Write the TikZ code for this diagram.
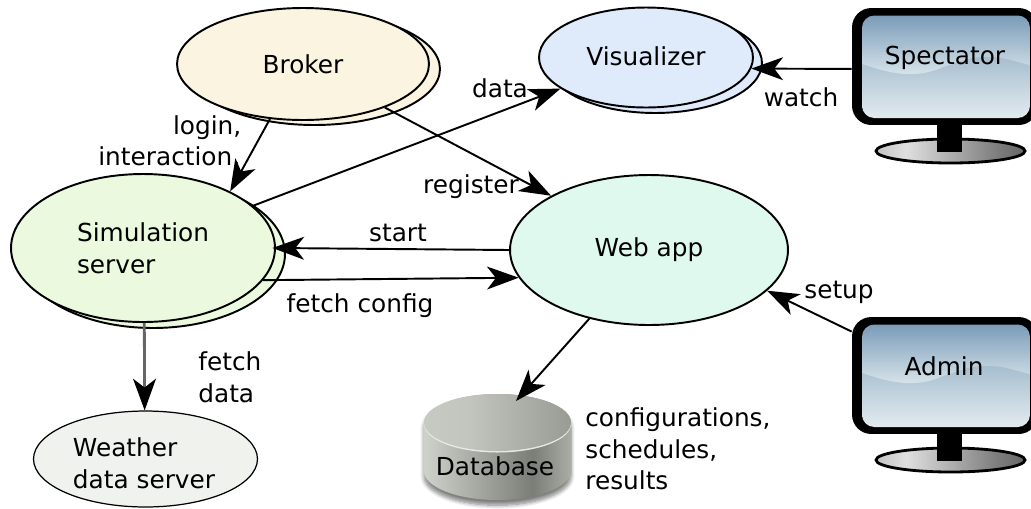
\documentclass[tikz,border=0pt]{standalone}
\usepackage{fontspec}
\setmainfont{DejaVu Sans}
\usepackage{xcolor}
\usetikzlibrary{shapes.geometric, arrows.meta, positioning, calc, shadows.blur}
\definecolor{brokerfill}{RGB}{251, 244, 224}
\definecolor{visfill}{RGB}{223, 234, 250}
\definecolor{simfill}{RGB}{235, 249, 223}
\definecolor{webfill}{RGB}{223, 249, 238}
\definecolor{weatherfill}{RGB}{240, 242, 238}
\definecolor{screentop}{RGB}{122, 155, 185}
\definecolor{screenmid}{RGB}{214, 227, 233}
\definecolor{screenlow}{RGB}{160, 185, 203}
\definecolor{screenend}{RGB}{226, 235, 239}
\definecolor{dbdark}{RGB}{122, 126, 118}
\definecolor{dblight}{RGB}{206, 210, 202}
\pgfdeclarehorizontalshading{dbside}{100bp}{color(0bp)=(dbdark); color(8bp)=(dblight!90!dbdark); color(25bp)=(dblight); color(62bp)=(dbdark); color(85bp)=(dblight); color(100bp)=(dbdark)}
\pgfdeclarehorizontalshading{dbtop}{100bp}{color(0bp)=(dblight); color(40bp)=(dblight!85!dbdark); color(100bp)=(dbdark)}
\pgfdeclarehorizontalshading{standfoot}{100bp}{color(0bp)=(gray); color(35bp)=(gray!25); color(65bp)=(gray); color(100bp)=(black!85)}
\tikzset{
	% 1 unit is 1 pixel of the reference
	proc/.style={ellipse, draw=black, line width=1.1pt, inner sep=0pt, align=left},
	tag/.style={inner sep=0pt, align=left},
	link/.style={draw=black, line width=1.1pt, -{Stealth[length=18pt, width=13pt, inset=5pt, color=black]}}
}

\begin{document}
\begin{tikzpicture}[x=0.02cm, y=-0.02cm, font=\fontsize{14.1}{18}\selectfont]
	\clip (0,0) rectangle (1031,508);

	% Processes, the copy behind first
	\node[proc, fill=brokerfill, minimum width=5.02cm, minimum height=2.24cm] (brokerback) at (314.5,69) {};
	\node[proc, fill=brokerfill, minimum width=5.04cm, minimum height=2.24cm] (broker) at (303,64) {\raisebox{-0.6pt}{Broker}};
	\node[proc, fill=visfill, minimum width=4.28cm, minimum height=2cm] (visback) at (655,63) {};
	\node[proc, fill=visfill, minimum width=4.28cm, minimum height=2cm] (vis) at (646,57.5) {\raisebox{1.2pt}{Visualizer}};
	\node[proc, fill=simfill, minimum width=5.28cm, minimum height=2.96cm] (simback) at (153,254) {};
	\node[proc, fill=simfill, minimum width=5.28cm, minimum height=2.96cm] (sim) at (143,248) {Simulation\\server};
	\node[proc, fill=webfill, minimum width=5.56cm, minimum height=3cm] (web) at (649,250) {\raisebox{-1pt}{Web app}};
	\node[proc, fill=weatherfill, line width=0.7pt, minimum width=4.48cm, minimum height=1.92cm] (weather) at (145.5,459) {};
	\node[tag] (weathertext) at (144,463) {Weather\\data server};

	% Database
	\shade[shading=dbside, blur shadow={shadow blur steps=8, shadow xshift=0pt, shadow yshift=-3pt, shadow opacity=50}]
		(424,422.5) -- (424,471) arc[start angle=180, end angle=360, x radius=73.5, y radius=-29] -- (571,422.5)
		arc[start angle=0, end angle=180, x radius=73.5, y radius=-28.5] -- cycle;
	\fill[white!50!dblight] (497.5,424) ellipse[x radius=73.5, y radius=28.5];
	\shade[shading=dbtop] (497.5,422.5) ellipse[x radius=73.5, y radius=28.5];
	\node[tag] (dbtext) at (495,466) {Database};
	\coordinate (dbin) at (516,401);

	% Monitors
	\foreach \mname/\mtext/\moff/\mx in {spectator/Spectator/0/945, admin/Admin/309/944} {
		\begin{scope}[shift={(0,\moff)}]
			\shade[shading=standfoot, draw=black, line width=1.6pt] (950.5,151) ellipse[x radius=74.5, y radius=12];
			\fill[black] (937,120) rectangle (962,152);
			\node[fill=black, rounded corners=11pt, minimum width=3.72cm, minimum height=2.34cm, inner sep=0pt] (\mname) at (945,66.5) {};
			\begin{scope}
				\clip[rounded corners=7pt] (862,15.5) rectangle (1030,118);
				\shade[top color=screenlow, bottom color=screenend] (862,50) rectangle (1030,118);
				\shade[top color=screentop, bottom color=screenmid] (862,15) -- (1030,15) -- (1030,65)
					.. controls (1012,61) and (1005,57) .. (990,57)
					.. controls (968,56) and (958,63) .. (943,67)
					.. controls (930,73) and (920,74) .. (910,74)
					.. controls (890,74) and (875,68) .. (862,64) -- cycle;
			\end{scope}
			\node[tag] (\mname text) at (\mx,57.5) {\mtext};
		\end{scope}
	}

	% Connectors
	\draw[link] (broker.239.5) -- (sim.33.4);
	\draw[link] (broker.-28.3) -- (web.151.6);
	\draw[link] (sim.21.3) -- (vis.200.6);
	\draw[link] ([yshift=-1.4pt]spectator.west) -- (vis.-6.3);
	\draw[link, shorten >=-2pt] (web.west) -- (sim.-0.5);
	\draw[link] (sim.-15) -- (web.192.8);
	\draw[link, draw=black!60, line width=1.6pt] (sim.-89.7) -- (weather.91);
	\draw[link] (web.229) -- (dbin);
	\draw[link] ([yshift=25pt]admin.west) -- (web.-19.5);

	% Labels
	\node[tag, anchor=west] (logintext) at (98,142) {\hspace*{42.5pt}login,\\interaction,};
	\node[tag] (datatext) at (500,88) {data};
	\node[tag] (watchtext) at (801,97) {watch};
	\node[tag] (registertext) at (471,187) {register};
	\node[tag] (starttext) at (398,233) {start};
	\node[tag] (fetchconfigtext) at (360,306) {fetch config};
	\node[tag, anchor=west] (fetchdatatext) at (198,377) {fetch\\data};
	\node[tag] (setuptext) at (839,292) {setup};
	\node[tag, anchor=west] (storestext) at (585,449) {configurations,\\schedules,\\results};
\end{tikzpicture}
\end{document}
